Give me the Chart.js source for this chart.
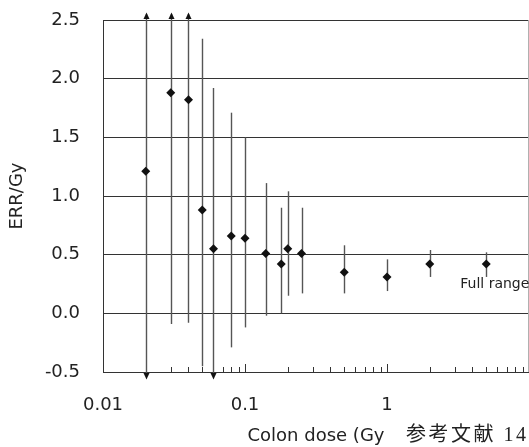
<!DOCTYPE html>
<html>
<head>
<meta charset="utf-8">
<script src="https://cdn.jsdelivr.net/npm/chart.js@4"></script>
<style>
  html, body { margin: 0; padding: 0; background: #fff; }
  #wrap { position: relative; width: 529px; height: 447px; overflow: hidden; }
  #ref { position: absolute; left: 406px; top: 422px; font-family: "Liberation Serif", "Noto Sans CJK JP", serif; font-size: 20px; letter-spacing: 2.5px; color: #222; white-space: nowrap; line-height: 24px; }
</style>
</head>
<body>
<div id="wrap">
  <canvas id="c" width="529" height="447"></canvas>
  <div id="ref">参考文献 14</div>
</div>
<script>
// ---- data ----
const doses = [0.02, 0.03, 0.04, 0.05, 0.06, 0.08, 0.1, 0.14, 0.18, 0.2, 0.25, 0.5, 1, 2, 5];
const errPerGy = [1.21, 1.88, 1.82, 0.88, 0.55, 0.66, 0.64, 0.51, 0.42, 0.55, 0.51, 0.35, 0.31, 0.42, 0.42];
// null = bound is off scale (drawn as an arrow)
const upperCI = [null, null, null, 2.34, 1.92, 1.71, 1.50, 1.11, 0.90, 1.04, 0.90, 0.58, 0.46, 0.54, 0.52];
const lowerCI = [null, -0.09, -0.08, -0.45, null, -0.29, -0.12, -0.02, 0.0, 0.15, 0.17, 0.17, 0.19, 0.31, 0.31];
const xTickValues = [0.01, 0.1, 1];
const yTickValues = [-0.5, 0.0, 0.5, 1.0, 1.5, 2.0, 2.5];
const xTitle = 'Colon dose (Gy';
const yTitle = 'ERR/Gy';
const noteLabel = { x: 3.28, y: 0.245, text: 'Full range' };

const FONT = "'DejaVu Sans', 'Liberation Sans', sans-serif";

const errorBarPlugin = {
  id: 'errorBars',
  beforeDatasetsDraw(chart) {
    const ctx = chart.ctx;
    const xs = chart.scales.x, ys = chart.scales.y;
    const area = chart.chartArea;
    ctx.save();
    // inward minor ticks on the log axis
    ctx.strokeStyle = '#333';
    ctx.lineWidth = 1;
    for (const dec of xTickValues) {
      for (let k = 1; k <= 9; k++) {
        const v = dec * k;
        if (v > xs.max) continue;
        const px = Math.round(xs.getPixelForValue(v)) + 0.5;
        const len = k === 1 ? 8 : 5;
        ctx.beginPath();
        ctx.moveTo(px, area.bottom);
        ctx.lineTo(px, area.bottom - len);
        ctx.stroke();
      }
    }
    // right border
    ctx.strokeStyle = '#b0b0b0';
    ctx.beginPath();
    ctx.moveTo(area.right - 0.5, area.top);
    ctx.lineTo(area.right - 0.5, area.bottom);
    ctx.stroke();

    // error bars
    ctx.strokeStyle = '#555';
    ctx.fillStyle = '#111';
    ctx.lineWidth = 1.4;
    doses.forEach((d, i) => {
      const px = Math.round(xs.getPixelForValue(d)) + 0.5;
      const yTop = upperCI[i] === null ? area.top - 6 : ys.getPixelForValue(upperCI[i]);
      const yBot = lowerCI[i] === null ? area.bottom + 1 : ys.getPixelForValue(lowerCI[i]);
      ctx.beginPath();
      ctx.moveTo(px, yTop);
      ctx.lineTo(px, yBot);
      ctx.stroke();
      if (upperCI[i] === null) {
        ctx.beginPath();
        ctx.moveTo(px, area.top - 7.5);
        ctx.lineTo(px - 3, area.top - 1);
        ctx.lineTo(px + 3, area.top - 1);
        ctx.closePath();
        ctx.fill();
      }
      if (lowerCI[i] === null) {
        ctx.beginPath();
        ctx.moveTo(px, area.bottom + 7.5);
        ctx.lineTo(px - 3, area.bottom + 1);
        ctx.lineTo(px + 3, area.bottom + 1);
        ctx.closePath();
        ctx.fill();
      }
    });
    ctx.restore();
  },
  afterDatasetsDraw(chart) {
    const ctx = chart.ctx;
    const xs = chart.scales.x, ys = chart.scales.y;
    ctx.save();
    ctx.font = '14px ' + FONT;
    ctx.fillStyle = '#222';
    ctx.textAlign = 'left';
    ctx.textBaseline = 'middle';
    ctx.fillText(noteLabel.text, xs.getPixelForValue(noteLabel.x), ys.getPixelForValue(noteLabel.y));
    ctx.restore();
  }
};

new Chart(document.getElementById('c'), {
  type: 'scatter',
  data: {
    datasets: [{
      data: doses.map((d, i) => ({ x: d, y: errPerGy[i] })),
      pointStyle: 'rectRot',
      pointRadius: 4.5,
      pointBackgroundColor: '#111',
      pointBorderColor: '#111',
      pointBorderWidth: 0,
      showLine: false,
      clip: false
    }]
  },
  options: {
    responsive: false,
    animation: false,
    devicePixelRatio: 1,
    layout: { autoPadding: false, padding: { top: 20, right: 0, left: 0, bottom: 0 } },
    plugins: { legend: { display: false }, tooltip: { enabled: false } },
    scales: {
      x: {
        type: 'logarithmic',
        position: 'bottom',
        min: 0.01,
        max: 10,
        grid: { display: false, drawTicks: false },
        border: { display: true, color: '#333', width: 1 },
        afterBuildTicks: (scale) => { scale.ticks = xTickValues.map(v => ({ value: v })); },
        afterFit: (scale) => { scale.height = 75; scale.paddingLeft = 0; scale.paddingRight = 0; },
        ticks: {
          autoSkip: false,
          maxRotation: 0,
          padding: 23,
          color: '#222',
          font: { family: FONT, size: 18 },
          callback: (v) => String(v)
        },
        title: {
          display: true,
          text: xTitle,
          color: '#222',
          font: { family: FONT, size: 18 },
          padding: { top: 0, bottom: 0 }
        }
      },
      y: {
        min: -0.5,
        max: 2.5,
        afterBuildTicks: (scale) => { scale.ticks = yTickValues.map(v => ({ value: v })); },
        afterFit: (scale) => { scale.width = 103; scale.paddingTop = 0; scale.paddingBottom = 0; },
        grid: { color: '#333', lineWidth: 1, drawTicks: false },
        border: { display: true, color: '#333', width: 1 },
        ticks: {
          padding: 23,
          color: '#222',
          font: { family: FONT, size: 18 },
          callback: (v) => Number(v).toFixed(1)
        },
        title: {
          display: true,
          text: yTitle,
          color: '#222',
          font: { family: FONT, size: 18 },
          padding: { top: 7, bottom: 0 }
        }
      }
    }
  },
  plugins: [errorBarPlugin]
});
</script>
</body>
</html>
